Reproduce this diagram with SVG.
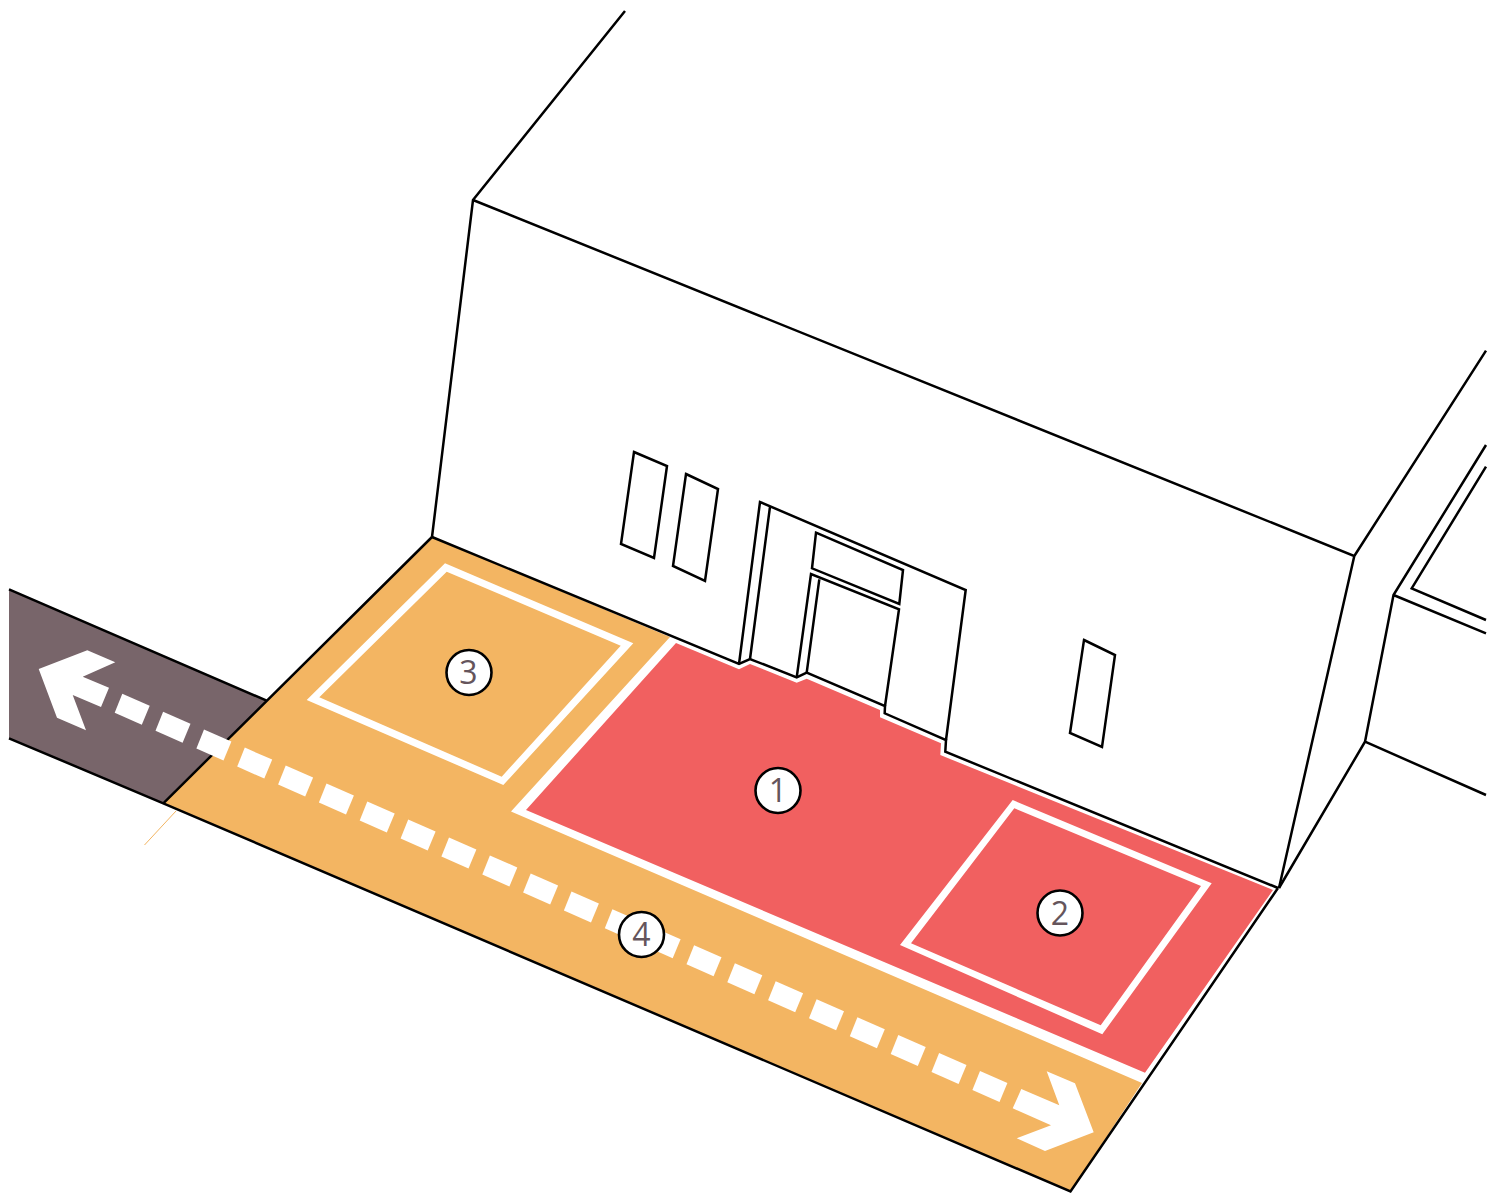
<svg xmlns="http://www.w3.org/2000/svg" width="1489" height="1196" viewBox="0 0 1489 1196">
<style>
.ln{fill:none;stroke:#000;stroke-width:2.5;stroke-linejoin:miter}
.wt{fill:#fff;fill-rule:evenodd}
.bc{fill:#fff;stroke:#000;stroke-width:2.6}
.lb{font-family:"Open Sans","Liberation Sans",sans-serif;font-size:32px;fill:#65555c;text-anchor:middle}
</style>
<defs><polygon id="dash" class="wt" points="0,0 27.4,12 19.5,31 -7.6,19"/></defs>
<g id="road"><polygon points="9,589.3 266.7,700.7 163.3,803.3 9,738.3" fill="#78656a"/></g>
<g id="zones">
<path d="M144.5,845 L176,811" stroke="#f3b562" stroke-width="1" fill="none"/>
<polygon id="zone-orange" points="432,537 670,637 511,811.5 1142,1083 1070.5,1191.5 163.3,803.3" fill="#f3b562"/>
<polygon id="zone-red" points="676,643 739,669.3 750,664 796.7,682.7 806.7,678.7 880,710 880,717.3 941,743.3 940.3,755 1273,890 1145,1072.7 526,810" fill="#f16060"/>
</g>
<g id="connectors">
<path class="ln" d="M9,589.3 L266.7,700.7 M9,738.3 L163.3,803.3 L1070.5,1191.5 L1278,888 M163.3,803.3 L432,537"/>
<path class="ln" d="M432,537 L739,664 L750,659 L796.7,677.3 L806.7,672.7 L885,706 L884.7,713.3 L946,740 L945.3,751.7 L1278,888"/>
<path class="ln" d="M625,11 L473,200 L432,537 M473,200 L1354.3,556 L1279,888 M1354.3,556 L1486,350.7"/>
<path class="ln" d="M1486,445 L1393.5,595 L1365,741.7 L1279,888 M1393.5,595 L1486,633.3 M1486,466.7 L1411.7,588.3 L1486,620 M1365,741.7 L1486,795"/>
<path class="ln" d="M739,664 L760,502 L965.7,590 L946,740 M770,506.7 L750,659"/>
<path class="ln" d="M816,532.7 L903,570 L899.3,604 L812,568.3 Z M796.7,677.3 L811,574 L899,609.3 L885,706 M819.3,579.3 L806.7,672.7"/>
<path class="ln" d="M634,452 L667,466 L654,558 L621,544 Z M686,474 L718,489 L705,581 L673,566 Z M1084,640 L1115,655 L1102,747 L1070,733 Z"/>
</g>
<g id="markings">
<path class="wt" d="M445,563.3 L633.3,643.3 L503.3,785 L306.7,700 Z M446.7,571.7 L319.3,697.3 L501.7,776.7 L620.7,645.7 Z"/>
<path class="wt" d="M1012.7,800 L1211.7,883.3 L1102.3,1034.3 L900,945 Z M1014.3,808.3 L911,943.3 L1100.7,1025.3 L1201,886 Z"/>
<polygon class="wt" points="38.7,669 87.3,650.3 115.3,662.3 82.7,676.7 109,687.7 101,707 72.7,695 86,730.3 57,717.7"/>
<polygon class="wt" points="1046.7,1071.3 1075,1083.3 1093.7,1132.3 1045,1151 1016.7,1138.3 1051,1125.3 1012.7,1108.3 1021.3,1089 1059.3,1105.3"/>
<use href="#dash" x="122.3" y="693.7"/><use href="#dash" x="163.1" y="711.7"/><use href="#dash" x="204" y="729.6"/><use href="#dash" x="244.8" y="747.6"/><use href="#dash" x="285.7" y="765.6"/><use href="#dash" x="326.5" y="783.5"/><use href="#dash" x="367.3" y="801.5"/><use href="#dash" x="408.2" y="819.5"/><use href="#dash" x="449" y="837.5"/><use href="#dash" x="489.9" y="855.4"/><use href="#dash" x="530.7" y="873.4"/><use href="#dash" x="571.5" y="891.4"/><use href="#dash" x="612.4" y="909.3"/><use href="#dash" x="653.2" y="927.3"/><use href="#dash" x="694.1" y="945.3"/><use href="#dash" x="734.9" y="963.2"/><use href="#dash" x="775.7" y="981.2"/><use href="#dash" x="816.6" y="999.2"/><use href="#dash" x="857.4" y="1017.2"/><use href="#dash" x="898.3" y="1035.1"/><use href="#dash" x="939.1" y="1053.1"/><use href="#dash" x="980" y="1071"/>
</g>
<g id="node-1"><circle class="bc" cx="778" cy="790.5" r="22.5"/><text class="lb" x="778" y="802">1</text></g>
<g id="node-2"><circle class="bc" cx="1060" cy="913" r="22.5"/><text class="lb" x="1060" y="924.5">2</text></g>
<g id="node-3"><circle class="bc" cx="469" cy="672.5" r="22.5"/><text class="lb" x="468.5" y="684">3</text></g>
<g id="node-4"><circle class="bc" cx="641.5" cy="934.5" r="22.5"/><text class="lb" x="641.5" y="946">4</text></g>
</svg>
